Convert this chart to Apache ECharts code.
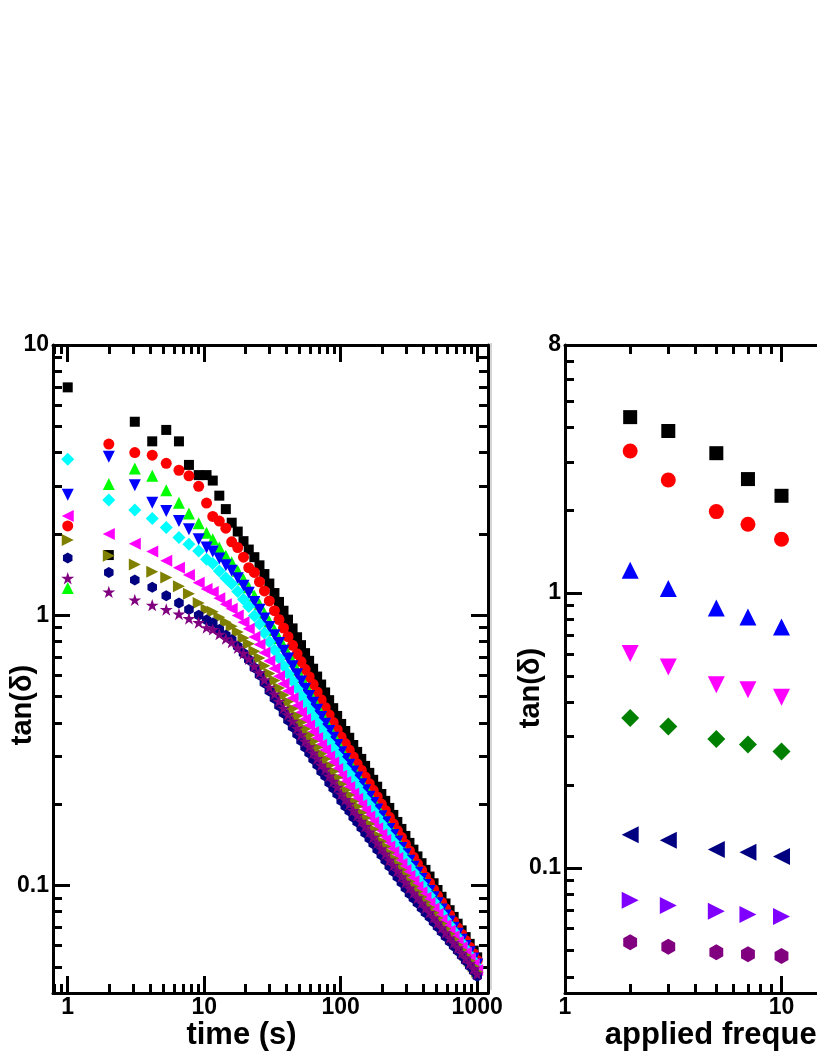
<!DOCTYPE html>
<html>
<head>
<meta charset="utf-8">
<script src="https://cdn.jsdelivr.net/npm/echarts@6/dist/echarts.min.js"></script>
<style>
html, body { margin: 0; padding: 0; background: #fff; }
#chart { width: 817px; height: 1058px; }
</style>
</head>
<body>
<div id="chart"></div>
<script>
// ---- left panel: tan(delta) vs time ----
var times = [1, 2, 3.1, 4.16, 5.27, 6.53, 7.73, 9.11,
	10.4, 11.55, 12.9, 14.4, 15.9, 17.6, 19.4, 21.2, 23.3, 25.4, 27.6, 30, 32.7, 35.3, 38.1, 41.1, 44.4, 47.9, 51.2, 54.8,
	58.7, 62.8, 67.2, 71.9, 76.9, 82.3, 88.1, 94.2,
	100.8, 108, 115.5, 123.6, 132, 141.5, 151, 162, 173, 185, 198.5, 212, 227, 243, 260, 278.5, 298, 319,
	341, 365, 391, 418, 447.5, 479, 512, 548, 586, 628, 672, 719, 769, 823, 881, 942, 1000];

var tanBlack = [6.97, 1.67, 5.2, 4.4, 4.85, 4.4, 3.6, 3.3,
	3.3, 3.15, 2.77, 2.47, 2.20, 2.04, 1.88, 1.75, 1.64, 1.53, 1.42, 1.31, 1.208, 1.12, 1.039, 0.963, 0.894, 0.829, 0.775, 0.724,
	0.678, 0.634, 0.593, 0.554, 0.518, 0.485, 0.453, 0.424,
	0.396, 0.373, 0.352, 0.331, 0.312, 0.294, 0.277, 0.261, 0.246, 0.232, 0.218, 0.2056, 0.1936, 0.1824, 0.1718, 0.1619, 0.1525, 0.1437,
	0.1357, 0.1281, 0.1209, 0.1142, 0.1079, 0.1019, 0.0962, 0.0908, 0.0858, 0.0810, 0.0765, 0.0722, 0.0682, 0.0644, 0.0608, 0.0574, 0.0542];

var tanRed = [2.14, 4.30, 4.0, 3.91, 3.65, 3.44, 3.28, 3.0,
	2.60, 2.32, 2.23, 2.10, 1.87, 1.78, 1.64, 1.50, 1.44, 1.33, 1.23, 1.13, 1.04, 0.964, 0.897, 0.833, 0.774, 0.720, 0.674, 0.631,
	0.592, 0.555, 0.520, 0.487, 0.456, 0.428, 0.401, 0.377,
	0.354, 0.335, 0.317, 0.299, 0.282, 0.267, 0.252, 0.238, 0.225, 0.213, 0.200, 0.1896, 0.1789, 0.1691, 0.1596, 0.1507, 0.1421, 0.1342,
	0.1272, 0.1203, 0.1139, 0.1078, 0.1022, 0.0967, 0.0916, 0.0867, 0.0821, 0.0778, 0.0736, 0.0697, 0.0660, 0.0625, 0.0591, 0.0559, 0.0528];

var tanGreen = [1.26, 3.06, 3.49, 3.28, 2.90, 2.61, 2.38, 2.19,
	2.02, 1.91, 1.78, 1.66, 1.57, 1.46, 1.36, 1.27, 1.18, 1.097, 1.018, 0.947, 0.882, 0.824, 0.771, 0.720, 0.675, 0.629, 0.591, 0.555,
	0.522, 0.491, 0.463, 0.434, 0.410, 0.385, 0.363, 0.341,
	0.320, 0.302, 0.287, 0.271, 0.257, 0.243, 0.230, 0.218, 0.206, 0.195, 0.184, 0.1746, 0.1649, 0.1563, 0.1479, 0.1399, 0.1325, 0.1253,
	0.1190, 0.1130, 0.1071, 0.1016, 0.0966, 0.0916, 0.0870, 0.0824, 0.0783, 0.0743, 0.0705, 0.0669, 0.0635, 0.0603, 0.0572, 0.0542, 0.0515];

var tanBlue = [2.79, 3.86, 3.03, 2.61, 2.43, 2.23, 2.08, 1.91,
	1.78, 1.72, 1.62, 1.53, 1.46, 1.37, 1.285, 1.21, 1.12, 1.048, 0.972, 0.904, 0.844, 0.789, 0.739, 0.691, 0.648, 0.605, 0.569, 0.534,
	0.503, 0.474, 0.447, 0.420, 0.397, 0.373, 0.352, 0.331,
	0.311, 0.294, 0.280, 0.264, 0.251, 0.237, 0.225, 0.213, 0.202, 0.191, 0.1805, 0.1715, 0.1619, 0.1536, 0.1455, 0.1377, 0.1305, 0.1234,
	0.1173, 0.1114, 0.1057, 0.1003, 0.0954, 0.0905, 0.0860, 0.0815, 0.0774, 0.0735, 0.0698, 0.0662, 0.0629, 0.0597, 0.0566, 0.0537, 0.0510];

var tanCyan = [3.78, 2.67, 2.45, 2.28, 2.11, 1.94, 1.83, 1.73,
	1.61, 1.553, 1.458, 1.374, 1.308, 1.225, 1.146, 1.077, 0.995, 0.929, 0.859, 0.797, 0.744, 0.694, 0.650, 0.608, 0.571, 0.534, 0.504, 0.474,
	0.448, 0.423, 0.401, 0.378, 0.359, 0.339, 0.322, 0.304,
	0.286, 0.271, 0.259, 0.2445, 0.233, 0.2204, 0.2097, 0.1989, 0.1891, 0.1792, 0.1697, 0.1616, 0.1528, 0.1453, 0.1379, 0.1308, 0.1242, 0.1178,
	0.1121, 0.1067, 0.1014, 0.0964, 0.0918, 0.0872, 0.0830, 0.0787, 0.0749, 0.0712, 0.0677, 0.0643, 0.0612, 0.0582, 0.0552, 0.0525, 0.0499];

var tanMagenta = [2.33, 2.0, 1.84, 1.72, 1.59, 1.50, 1.41, 1.32,
	1.25, 1.219, 1.155, 1.099, 1.056, 0.998, 0.942, 0.892, 0.830, 0.780, 0.726, 0.677, 0.635, 0.594, 0.558, 0.524, 0.493, 0.462, 0.437, 0.412,
	0.391, 0.370, 0.351, 0.332, 0.317, 0.300, 0.285, 0.270,
	0.2545, 0.2417, 0.2315, 0.2191, 0.2092, 0.1984, 0.1891, 0.1798, 0.1713, 0.1627, 0.1544, 0.1474, 0.1395, 0.1329, 0.1263, 0.1201, 0.1141, 0.1084,
	0.1036, 0.0989, 0.0944, 0.0900, 0.0861, 0.0821, 0.0784, 0.0746, 0.0713, 0.0680, 0.0649, 0.0619, 0.0591, 0.0564, 0.0537, 0.0511, 0.0487];

var tanOlive = [1.90, 1.66, 1.54, 1.45, 1.38, 1.28, 1.20, 1.11,
	1.05, 1.030, 0.982, 0.941, 0.910, 0.866, 0.824, 0.785, 0.735, 0.694, 0.650, 0.609, 0.573, 0.538, 0.507, 0.478, 0.451, 0.424, 0.401, 0.379,
	0.360, 0.341, 0.324, 0.307, 0.294, 0.278, 0.264, 0.251,
	0.2367, 0.2250, 0.2160, 0.2046, 0.1958, 0.1859, 0.1776, 0.1690, 0.1614, 0.1534, 0.1459, 0.1394, 0.1322, 0.1261, 0.1201, 0.1143, 0.1089, 0.1035,
	0.0991, 0.0948, 0.0906, 0.0866, 0.0830, 0.0792, 0.0758, 0.0723, 0.0692, 0.0661, 0.0632, 0.0604, 0.0577, 0.0552, 0.0526, 0.0502, 0.0479];

var tanNavy = [1.63, 1.44, 1.35, 1.27, 1.18, 1.11, 1.05, 1.0,
	0.96, 0.935, 0.886, 0.844, 0.811, 0.766, 0.723, 0.685, 0.639, 0.601, 0.561, 0.524, 0.492, 0.462, 0.434, 0.409, 0.386, 0.363, 0.343, 0.325,
	0.309, 0.293, 0.279, 0.264, 0.254, 0.240, 0.229, 0.218,
	0.206, 0.1962, 0.1888, 0.1790, 0.1717, 0.1634, 0.1563, 0.1491, 0.1427, 0.1359, 0.1296, 0.1239, 0.1178, 0.1126, 0.1075, 0.1025, 0.0978, 0.0932,
	0.0896, 0.0861, 0.0826, 0.0793, 0.0764, 0.0732, 0.0703, 0.0674, 0.0648, 0.0621, 0.0597, 0.0573, 0.0549, 0.0527, 0.0504, 0.0482, 0.0461];

var tanPurple = [1.37, 1.22, 1.14, 1.09, 1.05, 1.01, 0.972, 0.94,
	0.90, 0.886, 0.851, 0.819, 0.795, 0.758, 0.723, 0.690, 0.648, 0.613, 0.577, 0.542, 0.511, 0.481, 0.453, 0.428, 0.405, 0.382, 0.361, 0.342,
	0.326, 0.309, 0.295, 0.279, 0.269, 0.254, 0.243, 0.231,
	0.218, 0.208, 0.200, 0.1896, 0.1817, 0.1729, 0.1652, 0.1576, 0.1507, 0.1435, 0.1367, 0.1307, 0.1242, 0.1187, 0.1132, 0.1078, 0.1028, 0.0979,
	0.0939, 0.0901, 0.0862, 0.0826, 0.0795, 0.0760, 0.0728, 0.0697, 0.0669, 0.0640, 0.0614, 0.0588, 0.0562, 0.0539, 0.0515, 0.0492, 0.0470];

// ---- right panel: tan(delta) vs applied frequency ----
var freqs = [2, 3, 5, 7, 10];
var fBlack = [4.37, 3.89, 3.23, 2.60, 2.26];
var fRed = [3.29, 2.58, 1.98, 1.78, 1.57];
var fBlue = [1.21, 1.04, 0.882, 0.818, 0.752];
var fMagenta = [0.602, 0.538, 0.464, 0.445, 0.418];
var fGreen = [0.351, 0.327, 0.294, 0.281, 0.265];
var fNavy = [0.132, 0.126, 0.1165, 0.114, 0.110];
var fViolet = [0.0762, 0.0729, 0.0695, 0.0676, 0.0664];
var fPurple = [0.0536, 0.0516, 0.0493, 0.0484, 0.0477];

// ticks
var timeMajor = [1, 10, 100, 1000];
var timeMinor = [0.8, 0.9, 2, 3, 4, 5, 6, 7, 8, 9, 20, 30, 40, 50, 60, 70, 80, 90, 200, 300, 400, 500, 600, 700, 800, 900];
var tanMajorL = [0.1, 1, 10];
var tanMinorL = [0.05, 0.06, 0.07, 0.08, 0.09, 0.2, 0.3, 0.4, 0.5, 0.6, 0.7, 0.8, 0.9, 2, 3, 4, 5, 6, 7, 8, 9];
var freqMajor = [1, 10, 100];
var freqMinor = [2, 3, 4, 5, 6, 7, 8, 9, 20, 30, 40, 50, 60, 70, 80, 90];
var tanMajorR = [0.1, 1];
var tanLabelR = [0.1, 1, 8];
var tanMinorR = [0.04, 0.05, 0.06, 0.07, 0.08, 0.09, 0.2, 0.3, 0.4, 0.5, 0.6, 0.7, 0.8, 0.9, 2, 3, 4, 5, 6, 7];

var FONT = 'Liberation Sans, Arial, sans-serif';
var HEX = 'path://M0,-1L0.866,-0.5L0.866,0.5L0,1L-0.866,0.5L-0.866,-0.5Z';
var STAR = 'path://M0,-1L0.2245,-0.309L0.951,-0.309L0.363,0.118L0.588,0.809L0,0.382L-0.588,0.809L-0.363,0.118L-0.951,-0.309L-0.2245,-0.309Z';

function fmt(v) {
	return String(+(+v).toPrecision(4));
}

// four axes per side pair: main (line+major ticks), minor ticks, mirror main, mirror minor
function sideAxes(kind, grid, min, max, major, minor, labels, nameCfg) {
	var pos = kind === 'x' ? ['bottom', 'top'] : ['left', 'right'];
	var out = [];
	pos.forEach(function(p, k) {
		var main = {
			type: 'log', logBase: 10, gridIndex: grid, position: p, min: min, max: max,
			axisLine: { show: true, onZero: false, lineStyle: { color: '#000', width: 3 } },
			axisTick: { show: true, inside: true, length: 17, customValues: major, lineStyle: { color: '#000', width: 3 } },
			axisLabel: { show: k === 0, customValues: labels, formatter: fmt, color: '#000',
				fontSize: 23, fontWeight: 'bold', fontFamily: FONT, margin: kind === 'x' ? 3 : 4 },
			splitLine: { show: false },
			minorTick: { show: false }
		};
		if (k === 0 && nameCfg) {
			main.name = nameCfg.text;
			main.nameLocation = 'middle';
			main.nameGap = nameCfg.gap;
			main.nameMoveOverlap = false;
			main.nameTextStyle = { color: '#000', fontSize: nameCfg.size, fontWeight: 'bold', fontFamily: FONT, padding: nameCfg.pad };
		}
		out.push(main);
		out.push({
			type: 'log', logBase: 10, gridIndex: grid, position: p, min: min, max: max,
			axisLine: { show: false },
			axisTick: { show: true, inside: true, length: 9, customValues: minor, lineStyle: { color: '#000', width: 3 } },
			axisLabel: { show: false },
			splitLine: { show: false }
		});
	});
	return out;
}

var xAxes = sideAxes('x', 0, 0.78, 1200, timeMajor, timeMinor, timeMajor,
		{ text: 'time (s)', gap: 27, size: 31, pad: [0, 58, 0, 0] })
	.concat(sideAxes('x', 1, 1, 100, freqMajor, freqMinor, freqMajor,
		{ text: 'applied frequency (Hz)', gap: 27, size: 31, pad: [0, 21, 0, 0] }));
var yAxes = sideAxes('y', 0, 0.04, 10, tanMajorL, tanMinorL, tanMajorL,
		{ text: 'tan(δ)', gap: 16, size: 29, pad: [0, 72, 0, 0] })
	.concat(sideAxes('y', 1, 0.035, 8, tanMajorR, tanMinorR, tanLabelR,
		{ text: 'tan(δ)', gap: 20, size: 29, pad: [0, 38, 0, 0] }));

function pairs(xs, ys) {
	return xs.map(function(x, i) { return [x, ys[i]]; });
}

var leftDefs = [
	{ c: '#000000', s: 'rect', r: 0, z: 10, d: tanBlack },
	{ c: '#ff0000', s: 'circle', r: 0, z: 11, d: tanRed },
	{ c: '#00ff00', s: 'triangle', r: 0, z: 12, d: tanGreen },
	{ c: '#0000ff', s: 'triangle', r: 180, z: 12, d: tanBlue },
	{ c: '#00ffff', s: 'diamond', r: 0, z: 13, d: tanCyan },
	{ c: '#ff00ff', s: 'triangle', r: 90, z: 12, d: tanMagenta },
	{ c: '#808000', s: 'triangle', r: -90, z: 12, d: tanOlive },
	{ c: '#000080', s: HEX, r: 0, z: 11, d: tanNavy },
	{ c: '#800080', s: STAR, r: 0, z: 13, d: tanPurple }
];
var rightDefs = [
	{ c: '#000000', s: 'rect', r: 0, z: 14, d: fBlack },
	{ c: '#ff0000', s: 'circle', r: 0, z: 15, d: fRed },
	{ c: '#0000ff', s: 'triangle', r: 0, z: 17, d: fBlue },
	{ c: '#ff00ff', s: 'triangle', r: 180, z: 17, d: fMagenta },
	{ c: '#008000', s: 'diamond', r: 0, z: 18, d: fGreen },
	{ c: '#000080', s: 'triangle', r: 90, z: 17, d: fNavy },
	{ c: '#8000ff', s: 'triangle', r: -90, z: 17, d: fViolet },
	{ c: '#800080', s: HEX, r: 0, z: 16, d: fPurple }
];

var series = [];
leftDefs.forEach(function(o) {
	series.push({
		type: 'scatter', xAxisIndex: 0, yAxisIndex: 0,
		symbol: o.s, symbolRotate: o.r, symbolSize: o.z, symbolKeepAspect: true,
		itemStyle: { color: o.c, opacity: 1 },
		data: pairs(times, o.d)
	});
});
rightDefs.forEach(function(o) {
	series.push({
		type: 'scatter', xAxisIndex: 4, yAxisIndex: 4,
		symbol: o.s, symbolRotate: o.r, symbolSize: o.z, symbolKeepAspect: true,
		itemStyle: { color: o.c, opacity: 1 },
		data: pairs(freqs, o.d)
	});
});

var chart = echarts.init(document.getElementById('chart'), null, { renderer: 'canvas' });
chart.setOption({
	backgroundColor: '#ffffff',
	animation: false,
	grid: [
		{ left: 53, top: 345, width: 435, height: 648, outerBoundsMode: 'none' },
		{ left: 565, top: 345, width: 433, height: 648, outerBoundsMode: 'none' }
	],
	xAxis: xAxes,
	yAxis: yAxes,
	graphic: [{
		type: 'line', silent: true,
		shape: { x1: 491, y1: 343, x2: 491, y2: 990 },
		style: { stroke: '#aaaaaa', lineWidth: 1 }
	}],
	series: series
});
</script>
</body>
</html>
